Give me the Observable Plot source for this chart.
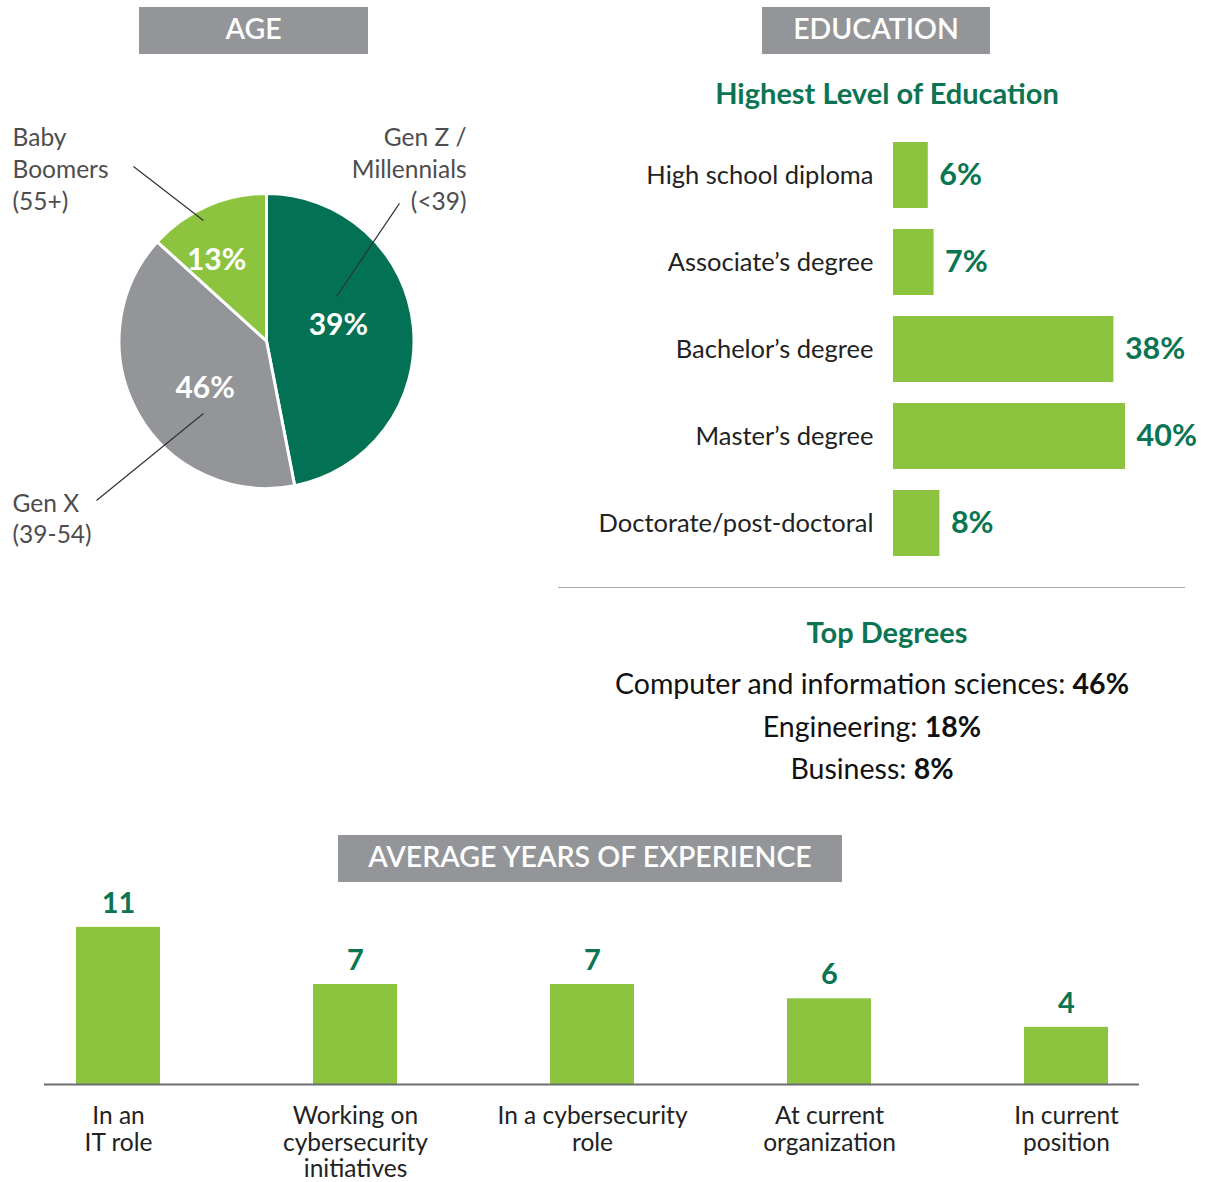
<!DOCTYPE html>
<html>
<head>
<meta charset="utf-8">
<script src="https://cdn.jsdelivr.net/npm/d3@7"></script>
<script src="https://cdn.jsdelivr.net/npm/@observablehq/plot@0.6"></script>
<style>
  body { margin: 0; background: #fff; }
  #root { position: relative; width: 1209px; height: 1182px; overflow: hidden; background: #fff;
          font-family: Lato, "Open Sans", "Noto Sans", sans-serif; }
  .part { position: absolute; }
  .hdr { position: absolute; height: 47px; line-height: 43px; background: #939598; color: #fff;
         font-weight: 600; font-size: 28.5px; text-align: center; }
  .subttl { position: absolute; text-align: center; color: #0b7453; font-weight: 700; font-size: 29px; line-height: 29px; }
  .deg { position: absolute; text-align: center; color: #111; font-size: 28.5px; line-height: 42.5px; }
  .deg b { font-weight: 700; }
  .sep { position: absolute; width: 627px; height: 0; border-top: 1.5px solid #a7a9ac; }
</style>
</head>
<body>
<div id="root"></div>
<script>
// ---------- DATA ----------
// Age (pie). Slice sizes as drawn in the reference, and the labels printed on them.
const ageGroups = ["Gen Z / Millennials (<39)", "Gen X (39-54)", "Baby Boomers (55+)"];
const ageSliceShares = [46, 39, 13];
const ageSliceLabels = ["39%", "46%", "13%"];
const ageCalloutTexts = ["Gen Z /\nMillennials\n(<39)", "Gen X\n(39-54)", "Baby\nBoomers\n(55+)"];

// Education (horizontal bars)
const eduLevels = ["High school diploma", "Associate’s degree", "Bachelor’s degree", "Master’s degree", "Doctorate/post-doctoral"];
const eduShares = [6, 7, 38, 40, 8];

// Top degrees (text list)
const topDegreeFields = ["Computer and information sciences", "Engineering", "Business"];
const topDegreeShares = [46, 18, 8];

// Average years of experience (vertical bars)
const expCategories = ["In an\nIT role", "Working on\ncybersecurity\ninitiatives", "In a cybersecurity\nrole", "At current\norganization", "In current\nposition"];
const expYears = [11, 7, 7, 6, 4];

// ---------- STYLE / LAYOUT ----------
const ageColors = ["#037153", "#939598", "#8cc43f"];
const barGreen = "#8cc43f";
const valueGreen = "#0a7552";
// in-slice label placement: radius as a fraction of the pie radius, and a small angular shift (radians)
const ageLabelRadius = [0.5, 0.52, 0.65];
const ageLabelAngleShift = -0.13;
// callout placement in pie-radius units (center = 0,0; radius = 1)
const ageCalloutLayout = [
  { x: 1.353, y: 1.48, anchor: "end" },
  { x: -1.725, y: -1.0, anchor: "start" },
  { x: -1.725, y: 1.48, anchor: "start" }
];
const ageLeaderLayout = [
  { x1: 0.898, y1: 0.936, x2: 0.471, y2: 0.305 },
  { x1: -1.156, y1: -1.078, x2: -0.431, y2: -0.488 },
  { x1: -0.905, y1: 1.186, x2: -0.431, y2: 0.820 }
];

const root = document.getElementById("root");
function place(node, left, top) {
  node.classList.add("part");
  node.style.left = left + "px";
  node.style.top = top + "px";
  root.appendChild(node);
}
function html(tag, cls, left, top, width, content) {
  const el = document.createElement(tag);
  el.className = cls;
  el.style.left = left + "px";
  el.style.top = top + "px";
  if (width != null) el.style.width = width + "px";
  el.innerHTML = content;
  root.appendChild(el);
  return el;
}
const fontStack = "Lato, 'Open Sans', sans-serif";

// ---------- HEADERS ----------
html("div", "hdr", 139, 7, 229, "AGE");
html("div", "hdr", 762, 7, 228, "EDUCATION");
html("div", "hdr", 338, 835, 504, "AVERAGE YEARS OF EXPERIENCE");

// ---------- AGE PIE ----------
const ageData = ageGroups.map((g, i) => ({ group: g, share: ageSliceShares[i], label: ageSliceLabels[i], color: ageColors[i], lr: ageLabelRadius[i] }));
const calloutData = ageCalloutTexts.map((t, i) => ({ text: t, ...ageCalloutLayout[i] }));
const leaderData = ageLeaderLayout.map((d, i) => ({ group: ageGroups[i], ...d }));

const pieMark = (index, scales) => {
  const cx = scales.x(0), cy = scales.y(0), r = scales.x(1) - scales.x(0);
  const arcs = d3.pie().sort(null).value(d => d.share)(ageData);
  const arc = d3.arc().innerRadius(0).outerRadius(r);
  const g = d3.create("svg:g").attr("transform", `translate(${cx},${cy})`);
  g.selectAll("path").data(arcs).join("path")
    .attr("d", arc)
    .attr("fill", d => d.data.color)
    .attr("stroke", "#fff")
    .attr("stroke-width", 3)
    .attr("stroke-linejoin", "round");
  g.selectAll("text").data(arcs).join("text")
    .attr("transform", d => {
      const a = (d.startAngle + d.endAngle) / 2 + ageLabelAngleShift;
      const rr = r * d.data.lr;
      return `translate(${rr * Math.sin(a)},${-rr * Math.cos(a)})`;
    })
    .attr("text-anchor", "middle")
    .attr("dy", "0.36em")
    .attr("fill", "#fff")
    .attr("font-weight", 700)
    .attr("font-size", 30)
    .text(d => d.data.label);
  return g.node();
};

const calloutStyle = { x: "x", y: "y", text: "text", lineAnchor: "top", lineHeight: 1.3, fontSize: 24.5, fill: "#4d4d4f" };
const piePlot = Plot.plot({
  width: 480, height: 560,
  marginLeft: 119, marginRight: 66, marginTop: 193.5, marginBottom: 71.5,
  x: { domain: [-1, 1], axis: null },
  y: { domain: [-1, 1], axis: null },
  style: { fontFamily: fontStack, background: "transparent", overflow: "visible" },
  marks: [
    pieMark,
    Plot.link(leaderData, { x1: "x1", y1: "y1", x2: "x2", y2: "y2", stroke: "#333", strokeWidth: 1.2 }),
    Plot.text(calloutData.filter(d => d.anchor === "start"), { ...calloutStyle, textAnchor: "start" }),
    Plot.text(calloutData.filter(d => d.anchor === "end"), { ...calloutStyle, textAnchor: "end" })
  ]
});
place(piePlot, 0, 0);

// ---------- EDUCATION BARS ----------
html("div", "subttl", 587, 78, 600, "Highest Level of Education");
const eduData = eduLevels.map((l, i) => ({ level: l, share: eduShares[i] }));
const eduPlot = Plot.plot({
  width: 651, height: 461,
  marginLeft: 335, marginRight: 84, marginTop: 0, marginBottom: 0,
  x: { domain: [0, 40], axis: null },
  y: { domain: eduLevels, padding: 0.239, label: null },
  style: { fontFamily: fontStack, background: "transparent", overflow: "visible" },
  marks: [
    Plot.barX(eduData, { x: "share", y: "level", fill: barGreen }),
    Plot.axisY({ tickSize: 0, tickPadding: 20, fontSize: 25.5, fill: "#222", label: null }),
    Plot.text(eduData, { x: "share", y: "level", text: d => d.share + "%", textAnchor: "start", dx: 11,
      fill: valueGreen, fontWeight: "bold", fontSize: 30.5 })
  ]
});
place(eduPlot, 558, 119);

// ---------- SEPARATOR + TOP DEGREES ----------
html("div", "sep", 558, 587, null, "");
html("div", "subttl", 587, 617, 600, "Top Degrees");
html("div", "deg", 422, 662, 900,
  topDegreeFields.map((f, i) => `${f}: <b>${topDegreeShares[i]}%</b>`).join("<br>"));

// ---------- EXPERIENCE BARS ----------
const expData = expCategories.map((c, i) => ({ cat: c, years: expYears[i] }));
const expPlot = Plot.plot({
  width: 1209, height: 298,
  marginLeft: 44, marginRight: 70, marginTop: 0, marginBottom: 98,
  x: { domain: expCategories, paddingInner: 0.6467, paddingOuter: 0.126, axis: null },
  y: { domain: [0, 14], axis: null },
  style: { fontFamily: fontStack, background: "transparent", overflow: "visible" },
  marks: [
    Plot.barY(expData, { x: "cat", y: "years", fill: barGreen }),
    Plot.ruleY([0], { stroke: "#6d6e71", strokeWidth: 2 }),
    Plot.text(expData, { x: "cat", y: "years", text: d => String(d.years), dy: -24,
      fill: valueGreen, fontWeight: "bold", fontSize: 29 }),
    Plot.text(expData, { x: "cat", text: "cat", frameAnchor: "bottom", lineAnchor: "top", dy: 21,
      lineHeight: 1.08, fontSize: 24.5, fill: "#222" })
  ]
});
place(expPlot, 0, 884);
</script>
</body>
</html>
